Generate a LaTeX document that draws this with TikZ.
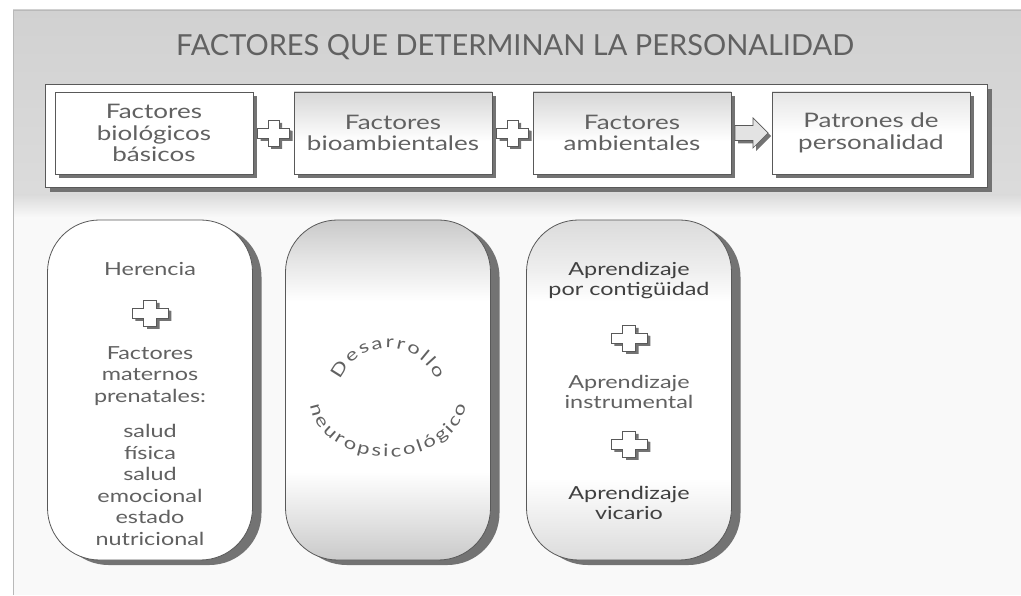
\documentclass[tikz,border=0pt]{standalone}
\usepackage{fontspec}
\setmainfont{Lato}
\newfontfamily\wfont[FakeStretch=1.3]{Lato}
\usetikzlibrary{calc,decorations.text}
\pgfdeclarelayer{bg}
\pgfdeclarelayer{shdA}
\pgfdeclarelayer{mid}
\pgfdeclarelayer{shdB}
\pgfsetlayers{bg,shdA,mid,shdB,main}
\definecolor{txtc}{gray}{0.38}
\definecolor{darktxt}{gray}{0.25}
\definecolor{edgec}{gray}{0.35}
\definecolor{shadc}{gray}{0.45}
\pgfdeclareverticalshading{capsuleA}{100bp}{color(0bp)=(gray!42); color(25bp)=(gray!42); color(31bp)=(gray!22); color(38bp)=(white); color(63bp)=(white); color(69bp)=(gray!20); color(75bp)=(gray!42); color(100bp)=(gray!42)}
\pgfdeclareverticalshading{capsuleB}{100bp}{color(0bp)=(gray!28); color(25bp)=(gray!28); color(31bp)=(gray!14); color(37bp)=(white); color(63bp)=(white); color(68bp)=(gray!14); color(75bp)=(gray!28); color(100bp)=(gray!28)}
\pgfdeclareverticalshading{boxsh}{100bp}{color(0bp)=(white); color(45bp)=(white); color(75bp)=(gray!32); color(100bp)=(gray!32)}
\pgfdeclareverticalshading{boxshl}{100bp}{color(0bp)=(white); color(50bp)=(white); color(75bp)=(gray!20); color(100bp)=(gray!20)}
\begin{document}
\begin{tikzpicture}[x=1pt,y=1pt,
  titletxt/.style={font=\fontsize{29}{31}\selectfont, text=txtc},
  container/.style={draw=edgec, line width=0.8, fill=white, minimum width=942, minimum height=103, inner sep=0, outer sep=0},
  fbox/.style={draw=edgec, line width=0.8, minimum width=198, minimum height=82, inner sep=0, outer sep=0,
    font=\wfont\fontsize{20}{21.5}\selectfont, text=txtc, align=center},
  capsule/.style={draw=edgec, line width=0.8, rounded corners=52, minimum width=205, minimum height=340, inner sep=0, outer sep=0},
  captxt/.style={font=\wfont\fontsize{18}{21.5}\selectfont, text=txtc, align=center},
  capdark/.style={font=\wfont\fontsize{18}{20}\selectfont, text=darktxt, align=center},
  crossmark/.pic={
    \fill[shadc] (-5.5+3,13-3) -- (5.5+3,13-3) -- (5.5+3,5+3-3) -- (16+3,5-3) -- (16+3,-5-3) -- (5.5+3,-5-3) -- (5.5+3,-13-3) -- (-5.5+3,-13-3) -- (-5.5+3,-5-3) -- (-16+3,-5-3) -- (-16+3,5-3) -- (-5.5+3,5-3) -- cycle;
    \filldraw[fill=white, draw=edgec, line width=0.7] (-5.5,13) -- (5.5,13) -- (5.5,5) -- (16,5) -- (16,-5) -- (5.5,-5) -- (5.5,-13) -- (-5.5,-13) -- (-5.5,-5) -- (-16,-5) -- (-16,5) -- (-5.5,5) -- cycle;
  },
  blockarrow/.pic={
    \fill[shadc] (-16.5+3,-7.5-3) -- (1.5+3,-7.5-3) -- (1.5+3,-15-3) -- (16.5+3,0-3) -- (1.5+3,15-3) -- (1.5+3,7.5-3) -- (-16.5+3,7.5-3) -- cycle;
    \filldraw[fill=gray!22, draw=edgec, line width=0.7] (-16.5,-7.5) -- (1.5,-7.5) -- (1.5,-15) -- (16.5,0) -- (1.5,15) -- (1.5,7.5) -- (-16.5,7.5) -- cycle;
  }
]
\useasboundingbox (0,0) rectangle (1021,595);
\begin{pgfonlayer}{bg}
  \fill[white] (0,0) rectangle (1021,595);
  \fill[gray!5] (13,0) rectangle (1021,585);
  \shade[top color=gray!36, bottom color=gray!28] (13,400) rectangle (1021,585);
  \shade[top color=gray!28, bottom color=gray!5] (13,378) rectangle (1021,400);
  \draw[gray!55, line width=0.8] (13,0) -- (13,585) -- (1021,585);
\end{pgfonlayer}

\node[titletxt] (title) at (515,548) {FACTORES QUE DETERMINAN LA PERSONALIDAD};

\begin{pgfonlayer}{mid}
  \node[container] (cont) at (516,459.5) {};
\end{pgfonlayer}
\begin{pgfonlayer}{shdA}
  \fill[shadc] ([shift={(5,-5)}]cont.south west) rectangle ([shift={(5,-5)}]cont.north east);
\end{pgfonlayer}

\node[fbox, fill=white] (b1) at (154,462) {Factores\\biológicos\\básicos};
\node[fbox, shade, shading=boxsh] (b2) at (393,462) {Factores\\bioambientales};
\node[fbox, shade, shading=boxsh] (b3) at (632,462) {Factores\\ambientales};
\node[fbox, shade, shading=boxshl] (b4) at (871,462) {Patrones de\\personalidad};
\begin{pgfonlayer}{shdB}
  \foreach \n in {b1,b2,b3,b4}
    \fill[shadc] ([shift={(4,-4)}]\n.south west) rectangle ([shift={(4,-4)}]\n.north east);
\end{pgfonlayer}

\path (b1.east) -- coordinate[pos=0.5] (m1) (b2.west);
\path (b2.east) -- coordinate[pos=0.5] (m2) (b3.west);
\path (b3.east) -- coordinate[pos=0.5] (m3) (b4.west);
\pic at (m1) {crossmark};
\pic at (m2) {crossmark};
\pic at (m3) {blockarrow};

% capsules
\node[capsule, fill=white] (s1) at (150,205) {};
\node[capsule, shade, shading=capsuleA] (s2) at (388,205) {};
\node[capsule, shade, shading=capsuleB] (s3) at (629,205) {};
\begin{pgfonlayer}{shdA}
  \foreach \n in {s1,s2,s3}
    \fill[shadc, rounded corners=52] ([shift={(9,-5)}]\n.south west) rectangle ([shift={(9,-5)}]\n.north east);
\end{pgfonlayer}

% capsule 1
\node[captxt] (h1) at (150,326) {Herencia};
\pic[xscale=1.12] at (150,282) {crossmark};
\node[captxt] (f1) at (150,219) {Factores\\maternos\\prenatales:};
\node[captxt] (f2) at (150,110) {salud\\física\\salud\\emocional\\estado\\nutricional};

% capsule 2: text around a circle
\coordinate (c2) at ($(s2.center)+(0,-10)$);
\path[decorate, decoration={text along path, text align=fit to path, text color=txtc,
   text={|\wfont\fontsize{17}{17}\selectfont|Desarrollo}}]
  ($(c2)+(157:52)$) arc[start angle=157, end angle=23, radius=52];
\path[decorate, decoration={text along path, text align=fit to path, text color=txtc,
   text={|\wfont\fontsize{17}{17}\selectfont|neuropsicológico}}]
  ($(c2)+(185:78 and 57)$) arc[start angle=185, end angle=355, x radius=78, y radius=57];

% capsule 3
\node[capdark] (a1) at (629,314) {Aprendizaje\\por contigüidad};
\pic[xscale=1.12] at (629,257) {crossmark};
\node[captxt, font=\wfont\fontsize{18}{20}\selectfont] (a2) at (629,203) {Aprendizaje\\instrumental};
\pic[xscale=1.12] at (629,151) {crossmark};
\node[capdark] (a3) at (629,92) {Aprendizaje\\vicario};
\end{tikzpicture}
\end{document}
